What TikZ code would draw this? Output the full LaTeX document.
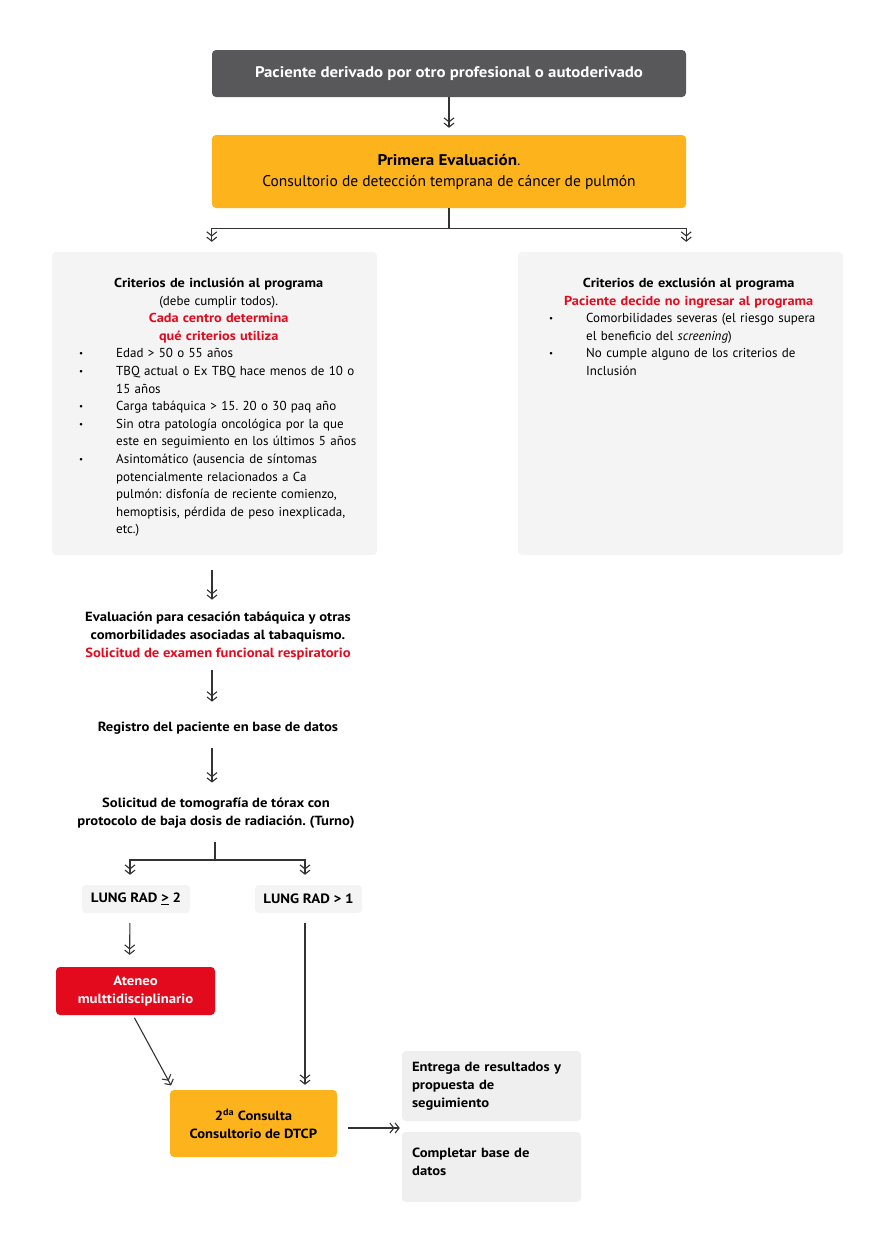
\documentclass[tikz,border=0pt]{standalone}
\usepackage{fontspec}
\setmainfont{PT Sans}[BoldFeatures={FakeStretch=1.1}]
\usetikzlibrary{arrows.meta}
\definecolor{dgray}{HTML}{58585A}
\definecolor{orng}{HTML}{FDB31B}
\definecolor{rred}{HTML}{E30A1E}
\definecolor{lgray}{HTML}{F4F4F4}
\definecolor{mgray}{HTML}{EFEFEF}
\definecolor{lineg}{HTML}{333333}
\newcommand\bitem[1]{\par\noindent\hangindent=40pt\hangafter=1\makebox[40pt][l]{\hspace{3pt}\raisebox{1pt}{\fontsize{9}{9}\selectfont\textbullet}}#1\par}
\frenchspacing
\begin{document}
\begin{tikzpicture}[x=1pt,y=-1pt,
  box/.style={rounded corners=4pt, inner sep=0pt},
  ttext/.style={inner sep=0pt, align=center, font=\fontsize{13.3}{18}\selectfont\bfseries},
  arr/.style={draw=lineg, line width=1.1pt, -{Straight Barb[length=4pt,width=10pt,line width=1.1pt]Straight Barb[length=4pt,width=10pt,line width=1.1pt]}},
  ln/.style={draw=lineg, line width=1.1pt}]
\useasboundingbox (0,0) rectangle (879,1245);
% top
\node[box, fill=dgray, minimum width=474, minimum height=47, text=white, font=\fontsize{15.3}{18}\selectfont\bfseries] (top) at (449,73.5) {Paciente derivado por otro profesional o autoderivado};
\node[box, fill=orng, minimum width=474, minimum height=73, align=center, font=\fontsize{15.5}{21}\selectfont] (eval) at (449,171.5) {\textbf{Primera Evaluación}.\\Consultorio de detección temprana de cáncer de pulmón};
% criteria boxes
\node[box, fill=lgray, minimum width=325, minimum height=303] (incl) at (214.5,403.5) {};
\node[box, fill=lgray, minimum width=325, minimum height=303] (excl) at (680.5,403.5) {};
\node[anchor=north west, inner sep=0pt, text width=285pt, font=\fontsize{13}{17.6}\selectfont] (incltxt) at (76,278) {%
\centering\textbf{Criterios de inclusión al programa}\\
(debe cumplir todos).\\
\textcolor{rred}{\textbf{Cada centro determina}}\\
\textcolor{rred}{\textbf{qué criterios utiliza}}\par
\raggedright
\bitem{Edad > 50 o 55 años}
\bitem{TBQ actual o Ex TBQ hace menos de 10 o\newline 15 años}
\bitem{Carga tabáquica > 15. 20 o 30 paq año}
\bitem{Sin otra patología oncológica por la que\newline este en seguimiento en los últimos 5 años}
\bitem{Asintomático (ausencia de síntomas\newline potencialmente relacionados a Ca\newline pulmón: disfonía de reciente comienzo,\newline hemoptisis, pérdida de peso inexplicada,\newline etc.)}};
\node[anchor=north west, inner sep=0pt, text width=285pt, font=\fontsize{13}{17.6}\selectfont] (excltxt) at (546,278) {%
\centering\textbf{Criterios de exclusión al programa}\\
\textcolor{rred}{\textbf{Paciente decide no ingresar al programa}}\par
\raggedright
\bitem{Comorbilidades severas (el riesgo supera\newline el beneficio del \textit{screening})}
\bitem{No cumple alguno de los criterios de\newline Inclusión}};
% middle text steps
\node[ttext] (ev) at (218,636) {Evaluación para cesación tabáquica y otras\\comorbilidades asociadas al tabaquismo.\\\textcolor{rred}{Solicitud de examen funcional respiratorio}};
\node[ttext] (reg) at (218,728) {Registro del paciente en base de datos};
\node[ttext] (tom) at (216,813) {Solicitud de tomografía de tórax con\\protocolo de baja dosis de radiación. (Turno)};
\coordinate (split) at (215,860);
% lung rad
\node[box, fill=lgray, minimum width=108, minimum height=28, font=\fontsize{13.5}{16}\selectfont\bfseries] (l2) at (136,899) {LUNG RAD \underline{>} 2};
\node[box, fill=lgray, minimum width=107, minimum height=28, font=\fontsize{13.5}{16}\selectfont\bfseries] (l1) at (308.5,899) {LUNG RAD > 1};
\node[box, fill=rred, minimum width=159, minimum height=48, text=white, align=center, font=\fontsize{13.4}{18}\selectfont\bfseries] (aten) at (135.5,991) {Ateneo\\multtidisciplinario};
\node[box, fill=orng, minimum width=167, minimum height=67, align=center, font=\fontsize{13.3}{18}\selectfont\bfseries] (cons) at (253.5,1123.5) {2\textsuperscript{da} Consulta\\Consultorio de DTCP};
\node[box, fill=mgray, minimum width=179, minimum height=70, text width=159pt, align=left, font=\fontsize{13.3}{18}\selectfont\bfseries] (entr) at (491.5,1086) {Entrega de resultados y\\propuesta de\\seguimiento};
\node[box, fill=mgray, minimum width=179, minimum height=70] (comp) at (491.5,1167) {};
\node[anchor=north west, inner sep=0pt, text width=159pt, align=left, font=\fontsize{13.3}{18}\selectfont\bfseries] (comptxt) at (412,1148) {Completar base de\\datos};
% connectors
\draw[arr, shorten >=7pt] (top) -- (eval);
\draw[arr, shorten >=10pt] (eval.south) -- ++(0,20) -| (incl.north -| eval.west);
\draw[arr, shorten >=10pt] (eval.south) -- ++(0,20) -| (excl.north -| eval.east);
\draw[arr, shorten <=15pt, shorten >=12pt] ([xshift=-2.5]incl.south) -- ([xshift=-2.5]incl.south |- ev.north);
\draw[arr, shorten <=10pt, shorten >=20pt] ([xshift=-6]ev.south) -- ([xshift=-6]ev.south |- reg.north);
\draw[arr, shorten <=14pt, shorten >=15pt] ([xshift=-6]reg.south) -- ([xshift=-6]reg.south |- tom.north);
\draw[ln, shorten <=14pt] (tom.south -| split) -- (split);
\draw[arr, shorten >=10pt] (split) -| ([xshift=-6]l2.north);
\draw[arr, shorten >=10pt] (split) -| ([xshift=-3.5]l1.north);
\draw[arr, shorten <=10pt, shorten >=12pt] ([xshift=-6]l2.south) -- ([xshift=-6]aten.north);
\draw[arr, shorten <=10pt, shorten >=5pt] ([xshift=-3.5]l1.south) -- ([xshift=-3.5]l1.south |- cons.north);
\draw[arr, shorten <=3pt, shorten >=5pt] ([xshift=-2.5]aten.south) -- ([xshift=-80]cons.north);
\draw[arr, shorten <=11pt, shorten >=2pt] ([yshift=-4.5]cons.east) -- ([yshift=-4.5]cons.east -| entr.west);
\end{tikzpicture}
\end{document}
